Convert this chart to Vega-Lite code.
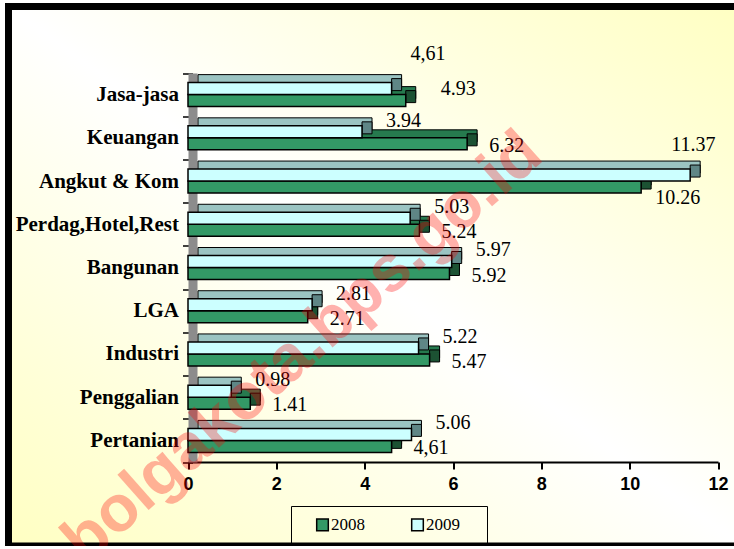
{
  "$schema": "https://vega.github.io/schema/vega-lite/v6.json",
  "width": 734,
  "height": 539.5,
  "autosize": {"type": "none"},
  "padding": {"left": 8.5, "top": 6.5, "right": 0, "bottom": 0},
  "background": "#ffffff",
  "config": {
    "view": {
      "stroke": "black",
      "strokeWidth": 7,
      "fill": {
        "gradient": "linear",
        "x1": 0, "y1": 1, "x2": 1, "y2": 0,
        "stops": [
          {"offset": 0, "color": "#FFFFC2"},
          {"offset": 0.5, "color": "#FFFFFF"},
          {"offset": 1, "color": "#FFFFC2"}
        ]
      }
    },
    "axisY": {
      "offset": -184,
      "domainColor": "#8c8c8c",
      "domainWidth": 9,
      "tickColor": "black",
      "tickWidth": 1.5,
      "tickSize": 10,
      "tickBand": "extent",
      "labelFont": "Liberation Serif",
      "labelFontSize": 21,
      "labelFontWeight": "bold",
      "labelColor": "black",
      "labelPadding": 4,
      "labelLimit": 300,
      "grid": false
    },
    "axisX": {
      "offset": -84,
      "domainColor": "black",
      "domainWidth": 2,
      "tickColor": "black",
      "tickWidth": 2,
      "tickSize": 7,
      "labelFont": "Liberation Sans",
      "labelFontSize": 18,
      "labelFontWeight": "bold",
      "labelColor": "black",
      "labelPadding": 6,
      "labelFlush": false,
      "grid": false
    },
    "text": {"font": "Liberation Serif", "fontSize": 20, "color": "black", "align": "left", "baseline": "middle"}
  },
  "data": {
    "values": [
      {"cat": "Jasa-jasa", "year": "2008", "value": 4.93, "label": "4.93"},
      {"cat": "Keuangan", "year": "2008", "value": 6.32, "label": "6.32"},
      {"cat": "Angkut & Kom", "year": "2008", "value": 10.26, "label": "10.26"},
      {"cat": "Perdag,Hotel,Rest", "year": "2008", "value": 5.24, "label": "5.24"},
      {"cat": "Bangunan", "year": "2008", "value": 5.92, "label": "5.92"},
      {"cat": "LGA", "year": "2008", "value": 2.71, "label": "2.71"},
      {"cat": "Industri", "year": "2008", "value": 5.47, "label": "5.47"},
      {"cat": "Penggalian", "year": "2008", "value": 1.41, "label": "1.41"},
      {"cat": "Pertanian", "year": "2008", "value": 4.61, "label": "4,61"},
      {"cat": "Jasa-jasa", "year": "2009", "value": 4.61, "label": "4,61"},
      {"cat": "Keuangan", "year": "2009", "value": 3.94, "label": "3.94"},
      {"cat": "Angkut & Kom", "year": "2009", "value": 11.37, "label": "11.37"},
      {"cat": "Perdag,Hotel,Rest", "year": "2009", "value": 5.03, "label": "5.03"},
      {"cat": "Bangunan", "year": "2009", "value": 5.97, "label": "5.97"},
      {"cat": "LGA", "year": "2009", "value": 2.81, "label": "2.81"},
      {"cat": "Industri", "year": "2009", "value": 5.22, "label": "5.22"},
      {"cat": "Penggalian", "year": "2009", "value": 0.98, "label": "0.98"},
      {"cat": "Pertanian", "year": "2009", "value": 5.06, "label": "5.06"}
    ]
  },
  "layer": [
    {
      "transform": [{"filter": "datum.year == '2008'"}],
      "mark": {"type": "bar", "stroke": "black", "strokeWidth": 1, "height": 12, "xOffset": 10, "x2Offset": 10, "yOffset": -2, "fill": "#267A4E"},
      "encoding": {
        "y": {"field": "cat", "type": "nominal", "title": null, "sort": ["Jasa-jasa","Keuangan","Angkut & Kom","Perdag,Hotel,Rest","Bangunan","LGA","Industri","Penggalian","Pertanian"], "scale": {"range": [66.5, 455.5], "paddingInner": 0, "paddingOuter": 0}},
        "x": {"field": "value", "type": "quantitative", "title": null, "scale": {"domain": [0, 12], "range": [179.5, 709.5], "nice": false}, "axis": {"values": [0, 2, 4, 6, 8, 10, 12]}},
        "x2": {"datum": 0}
      }
    },
    {
      "transform": [{"filter": "datum.year == '2008'"}],
      "mark": {"type": "bar", "stroke": "black", "strokeWidth": 1, "height": 12, "x2Offset": 10, "yOffset": 2, "fill": "#1C5233"},
      "encoding": {
        "y": {"field": "cat", "type": "nominal", "title": null, "sort": ["Jasa-jasa","Keuangan","Angkut & Kom","Perdag,Hotel,Rest","Bangunan","LGA","Industri","Penggalian","Pertanian"]},
        "x": {"field": "value", "type": "quantitative", "title": null, "axis": {"values": [0, 2, 4, 6, 8, 10, 12]}},
        "x2": {"field": "value"}
      }
    },
    {
      "transform": [{"filter": "datum.year == '2009'"}],
      "mark": {"type": "bar", "stroke": "black", "strokeWidth": 1, "height": 12, "xOffset": 10, "x2Offset": 10, "yOffset": -14, "fill": "#9BC4C2"},
      "encoding": {
        "y": {"field": "cat", "type": "nominal", "title": null, "sort": ["Jasa-jasa","Keuangan","Angkut & Kom","Perdag,Hotel,Rest","Bangunan","LGA","Industri","Penggalian","Pertanian"]},
        "x": {"field": "value", "type": "quantitative", "title": null, "axis": {"values": [0, 2, 4, 6, 8, 10, 12]}},
        "x2": {"datum": 0}
      }
    },
    {
      "transform": [{"filter": "datum.year == '2009'"}],
      "mark": {"type": "bar", "stroke": "black", "strokeWidth": 1, "height": 12, "x2Offset": 10, "yOffset": -10, "fill": "#5F8686"},
      "encoding": {
        "y": {"field": "cat", "type": "nominal", "title": null, "sort": ["Jasa-jasa","Keuangan","Angkut & Kom","Perdag,Hotel,Rest","Bangunan","LGA","Industri","Penggalian","Pertanian"]},
        "x": {"field": "value", "type": "quantitative", "title": null, "axis": {"values": [0, 2, 4, 6, 8, 10, 12]}},
        "x2": {"field": "value"}
      }
    },
    {
      "mark": {"type": "bar", "stroke": "black", "strokeWidth": 1.5},
      "encoding": {
        "y": {"field": "cat", "type": "nominal", "title": null, "sort": ["Jasa-jasa","Keuangan","Angkut & Kom","Perdag,Hotel,Rest","Bangunan","LGA","Industri","Penggalian","Pertanian"]},
        "yOffset": {"field": "year", "type": "nominal", "sort": ["2009", "2008"], "scale": {"paddingInner": 0, "paddingOuter": 0.8}},
        "x": {"field": "value", "type": "quantitative", "title": null, "axis": {"values": [0, 2, 4, 6, 8, 10, 12]}},
        "x2": {"datum": 0},
        "color": {
          "field": "year", "type": "nominal",
          "scale": {"domain": ["2008", "2009"], "range": ["#339966", "#CCFFFF"]},
          "legend": {
            "orient": "none", "legendX": 282.5, "legendY": 499.5,
            "direction": "horizontal", "title": " ", "titleOrient": "right", "titlePadding": 17, "titleFontSize": 10,
            "strokeColor": "black", "padding": 10, "symbolOffset": 13,
            "symbolType": "square", "symbolSize": 135,
            "symbolStrokeColor": "black", "symbolStrokeWidth": 1.5,
            "labelFont": "Liberation Serif", "labelFontSize": 17, "labelColor": "black",
            "labelOffset": 0, "columnPadding": 31
          }
        }
      }
    },
    {
      "transform": [{"filter": "datum.year == '2009' && datum.cat != 'Jasa-jasa' && datum.cat != 'Angkut & Kom'"}],
      "mark": {"type": "text", "dx": 24, "dy": -11},
      "encoding": {
        "y": {"field": "cat", "type": "nominal", "title": null, "sort": ["Jasa-jasa","Keuangan","Angkut & Kom","Perdag,Hotel,Rest","Bangunan","LGA","Industri","Penggalian","Pertanian"]},
        "yOffset": {"field": "year", "type": "nominal", "sort": ["2009", "2008"]},
        "x": {"field": "value", "type": "quantitative", "title": null, "axis": {"values": [0, 2, 4, 6, 8, 10, 12]}},
        "text": {"field": "label"}
      }
    },
    {
      "transform": [{"filter": "datum.year == '2009' && datum.cat == 'Angkut & Kom'"}],
      "mark": {"type": "text", "dx": -19, "dy": -30},
      "encoding": {
        "y": {"field": "cat", "type": "nominal", "title": null, "sort": ["Jasa-jasa","Keuangan","Angkut & Kom","Perdag,Hotel,Rest","Bangunan","LGA","Industri","Penggalian","Pertanian"]},
        "yOffset": {"field": "year", "type": "nominal", "sort": ["2009", "2008"]},
        "x": {"field": "value", "type": "quantitative", "title": null, "axis": {"values": [0, 2, 4, 6, 8, 10, 12]}},
        "text": {"field": "label"}
      }
    },
    {
      "transform": [{"filter": "datum.year == '2009' && datum.cat == 'Jasa-jasa'"}],
      "mark": {"type": "text", "dx": 19, "dy": -35},
      "encoding": {
        "y": {"field": "cat", "type": "nominal", "title": null, "sort": ["Jasa-jasa","Keuangan","Angkut & Kom","Perdag,Hotel,Rest","Bangunan","LGA","Industri","Penggalian","Pertanian"]},
        "yOffset": {"field": "year", "type": "nominal", "sort": ["2009", "2008"]},
        "x": {"field": "value", "type": "quantitative", "title": null, "axis": {"values": [0, 2, 4, 6, 8, 10, 12]}},
        "text": {"field": "label"}
      }
    },
    {
      "transform": [{"filter": "datum.year == '2008' && datum.cat != 'Jasa-jasa' && datum.cat != 'Angkut & Kom'"}],
      "mark": {"type": "text", "dx": 22, "dy": 2},
      "encoding": {
        "y": {"field": "cat", "type": "nominal", "title": null, "sort": ["Jasa-jasa","Keuangan","Angkut & Kom","Perdag,Hotel,Rest","Bangunan","LGA","Industri","Penggalian","Pertanian"]},
        "yOffset": {"field": "year", "type": "nominal", "sort": ["2009", "2008"]},
        "x": {"field": "value", "type": "quantitative", "title": null, "axis": {"values": [0, 2, 4, 6, 8, 10, 12]}},
        "text": {"field": "label"}
      }
    },
    {
      "transform": [{"filter": "datum.year == '2008' && datum.cat == 'Angkut & Kom'"}],
      "mark": {"type": "text", "dx": 14, "dy": 11},
      "encoding": {
        "y": {"field": "cat", "type": "nominal", "title": null, "sort": ["Jasa-jasa","Keuangan","Angkut & Kom","Perdag,Hotel,Rest","Bangunan","LGA","Industri","Penggalian","Pertanian"]},
        "yOffset": {"field": "year", "type": "nominal", "sort": ["2009", "2008"]},
        "x": {"field": "value", "type": "quantitative", "title": null, "axis": {"values": [0, 2, 4, 6, 8, 10, 12]}},
        "text": {"field": "label"}
      }
    },
    {
      "transform": [{"filter": "datum.year == '2008' && datum.cat == 'Jasa-jasa'"}],
      "mark": {"type": "text", "dx": 35, "dy": -12},
      "encoding": {
        "y": {"field": "cat", "type": "nominal", "title": null, "sort": ["Jasa-jasa","Keuangan","Angkut & Kom","Perdag,Hotel,Rest","Bangunan","LGA","Industri","Penggalian","Pertanian"]},
        "yOffset": {"field": "year", "type": "nominal", "sort": ["2009", "2008"]},
        "x": {"field": "value", "type": "quantitative", "title": null, "axis": {"values": [0, 2, 4, 6, 8, 10, 12]}},
        "text": {"field": "label"}
      }
    },
    {
      "data": {"values": [{"cat": "Industri", "value": 2.42, "t": "bolgakota.bps.go.id"}]},
      "mark": {"type": "text", "align": "center", "baseline": "middle", "angle": -41.5, "dx": 10, "font": "Liberation Sans", "fontWeight": "bold", "fontSize": 65, "color": "#FF0000", "opacity": 0.3},
      "encoding": {
        "y": {"field": "cat", "type": "nominal", "title": null, "sort": ["Jasa-jasa","Keuangan","Angkut & Kom","Perdag,Hotel,Rest","Bangunan","LGA","Industri","Penggalian","Pertanian"]},
        "x": {"field": "value", "type": "quantitative", "title": null, "axis": {"values": [0, 2, 4, 6, 8, 10, 12]}},
        "text": {"field": "t"}
      }
    }
  ]
}
